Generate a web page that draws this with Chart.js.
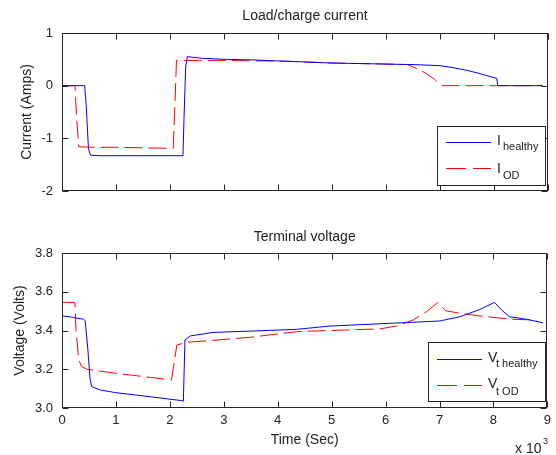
<!DOCTYPE html>
<html>
<head>
<meta charset="utf-8">
<script src="https://cdn.jsdelivr.net/npm/chart.js@4.4.0/dist/chart.umd.min.js"></script>
<style>
  html, body { margin: 0; padding: 0; background: #fff; }
  #wrap { position: relative; width: 556px; height: 455px; }
  .panel { position: absolute; left: 0; width: 556px; }
</style>
</head>
<body>
<div id="wrap">
  <div class="panel" style="top:0;height:228px"><canvas id="currentChart"></canvas></div>
  <div class="panel" style="top:228px;height:227px"><canvas id="voltageChart"></canvas></div>
</div>
<script>
// time axis is in thousands of seconds (x 10^3)
const timeTicks = [0, 1, 2, 3, 4, 5, 6, 7, 8, 9];
const currentTicks = [-2, -1, 0, 1];
const voltageTicks = [3, 3.2, 3.4, 3.6, 3.8];

const healthyCurrentTime = [0, 0.42, 0.45, 0.49, 0.53, 0.7, 1.0, 1.5, 2.0, 2.24, 2.26, 2.29, 2.32, 2.6, 3.0, 3.5, 4.0, 4.5, 5.0, 5.5, 6.0, 6.5, 7.0, 7.25, 7.5, 7.7, 7.87, 8.05, 8.07, 8.5, 8.9];
const healthyCurrent = [0, 0, -0.4, -1.2, -1.32, -1.33, -1.33, -1.33, -1.33, -1.33, -0.6, 0.35, 0.55, 0.52, 0.50, 0.49, 0.47, 0.45, 0.43, 0.42, 0.41, 0.40, 0.38, 0.34, 0.29, 0.24, 0.19, 0.14, 0, 0, 0];

const odCurrentTime = [0, 0.24, 0.27, 0.31, 0.6, 1.0, 1.5, 2.0, 2.06, 2.09, 2.12, 2.5, 3.0, 3.5, 4.0, 4.5, 5.0, 5.5, 6.0, 6.4, 6.6, 6.73, 6.9, 7.0, 7.05, 7.5, 8.0, 8.5, 8.9];
const odCurrent = [0, 0, -0.6, -1.16, -1.17, -1.17, -1.18, -1.19, -1.19, -0.4, 0.48, 0.48, 0.48, 0.47, 0.47, 0.45, 0.43, 0.42, 0.41, 0.40, 0.31, 0.24, 0.12, 0.02, 0, 0, 0, 0, 0];

const healthyVoltageTime = [0, 0.2, 0.40, 0.43, 0.48, 0.52, 0.55, 0.71, 1.0, 1.64, 2.22, 2.25, 2.28, 2.38, 2.8, 3.5, 4.35, 4.97, 6.08, 7.0, 7.38, 7.75, 8.02, 8.15, 8.3, 8.61, 8.92];
const healthyVoltage = [3.476, 3.468, 3.458, 3.45, 3.30, 3.15, 3.11, 3.093, 3.079, 3.058, 3.038, 3.035, 3.351, 3.372, 3.39, 3.397, 3.406, 3.423, 3.437, 3.449, 3.471, 3.509, 3.545, 3.506, 3.471, 3.458, 3.44];

const odVoltageTime = [0, 0.24, 0.26, 0.31, 0.36, 0.46, 1.0, 1.64, 2.03, 2.06, 2.13, 2.31, 2.87, 3.49, 4.35, 5.28, 5.89, 6.2, 6.51, 6.76, 6.97, 7.11, 7.38, 7.75, 8.06, 8.36, 8.8];
const odVoltage = [3.545, 3.545, 3.40, 3.25, 3.215, 3.20, 3.179, 3.158, 3.145, 3.2, 3.325, 3.339, 3.351, 3.365, 3.394, 3.403, 3.408, 3.423, 3.454, 3.497, 3.545, 3.502, 3.489, 3.475, 3.466, 3.458, 3.454];

// legend text: main letter + subscript
const currentLegend = [['I', 'healthy'], ['I', 'OD']];
const voltageLegend = [['V', 't healthy'], ['V', 't OD']];

const FONT = "'Liberation Sans', Arial, sans-serif";
const INK = '#222';
const BLUE = '#0000ff';
const RED = '#ff0000';
const LINE_COLORS = [BLUE, RED];
Chart.defaults.font.family = FONT;
Chart.defaults.color = INK;

function zip(xs, ys) {
  return xs.map((x, i) => ({ x: x, y: ys[i] }));
}

function lineSet(label, xs, ys, color, dash) {
  return {
    label: label,
    data: zip(xs, ys),
    borderColor: color,
    borderWidth: 1,
    borderDash: dash,
    pointRadius: 0,
    tension: 0,
    fill: false
  };
}

// legend sample line as filled rects (solid or dashed)
function legendSample(ctx, x0, x1, y, h, color, dash) {
  ctx.fillStyle = color;
  if (!dash) {
    ctx.fillRect(x0, y, x1 - x0, h);
    return;
  }
  let x = x0, on = true, k = 0;
  while (x < x1) {
    const len = Math.min(dash[k % 2], x1 - x);
    if (on) ctx.fillRect(x, y, len, h);
    x += len; on = !on; k++;
  }
}

// MATLAB style box: frame, inward ticks on all four sides, legend with subscripts
const matlabBox = {
  id: 'matlabBox',
  afterDraw(chart, args, opts) {
    const { ctx, chartArea: a, scales } = chart;
    const L = Math.round(a.left) + 0.5, R = Math.round(a.right) - 0.5;
    const T = Math.round(a.top) + 0.5, B = Math.round(a.bottom) - 0.5;
    ctx.save();
    ctx.strokeStyle = '#262626';
    ctx.lineWidth = 1;
    ctx.setLineDash([]);
    ctx.beginPath();
    scales.x.ticks.forEach(t => {
      const px = Math.round(scales.x.getPixelForValue(t.value)) + 0.5;
      ctx.moveTo(px, B); ctx.lineTo(px, B - 6);
      ctx.moveTo(px, T); ctx.lineTo(px, T + 6);
    });
    scales.y.ticks.forEach(t => {
      const py = Math.round(scales.y.getPixelForValue(t.value)) + 0.5;
      ctx.moveTo(L, py); ctx.lineTo(L + 6, py);
      ctx.moveTo(R, py); ctx.lineTo(R - 6, py);
    });
    ctx.stroke();
    ctx.strokeRect(L, T, R - L, B - T);

    // legend
    const lg = opts.legend;
    ctx.fillStyle = '#fff';
    ctx.fillRect(lg.left, lg.top, lg.right - lg.left, lg.bottom - lg.top);
    ctx.strokeRect(lg.left + 0.5, lg.top + 0.5, lg.right - lg.left, lg.bottom - lg.top);
    lg.items.forEach((item, i) => {
      const row = lg.rows[i];
      legendSample(ctx, lg.lineX0, lg.lineX1, row.line, 1, LINE_COLORS[i], i === 1 ? [20, 7] : null);
      ctx.fillStyle = INK;
      ctx.textBaseline = 'alphabetic';
      ctx.textAlign = 'left';
      ctx.font = '14px ' + FONT;
      ctx.fillText(item[0], lg.textX, row.main);
      ctx.font = '11px ' + FONT;
      ctx.fillText(item[1], lg.subX, row.sub);
    });

    if (opts.exponent) {
      ctx.fillStyle = INK;
      ctx.font = '14px ' + FONT;
      ctx.fillText('x 10', 515, 225);
      ctx.font = '9px ' + FONT;
      ctx.fillText('3', 543, 216);
    }
    ctx.restore();
  }
};

function axisFit(size, horizontal) {
  return s => { if (horizontal) s.height = size; else s.width = size; };
}

const currentChart = new Chart(document.getElementById('currentChart'), {
  type: 'line',
  data: {
    datasets: [
      lineSet('I healthy', healthyCurrentTime, healthyCurrent, BLUE, []),
      lineSet('I OD', odCurrentTime, odCurrent, RED, [18, 6])
    ]
  },
  options: {
    responsive: true,
    maintainAspectRatio: false,
    animation: false,
    layout: { padding: { left: 0, right: 8, top: 0, bottom: 37 } },
    plugins: {
      legend: { display: false },
      tooltip: { enabled: false },
      title: {
        display: true, text: 'Load/charge current', fullSize: false, color: INK,
        font: { size: 14, weight: 'normal' }, padding: { top: 8, bottom: 8.2 }
      },
      matlabBox: {
        legend: {
          left: 437, top: 126, right: 545, bottom: 185,
          lineX0: 446, lineX1: 491, textX: 497, subX: 503,
          rows: [{ line: 142, main: 145, sub: 150 }, { line: 168, main: 173, sub: 179 }],
          items: currentLegend
        }
      }
    },
    scales: {
      x: {
        type: 'linear', min: 0, max: 9,
        afterBuildTicks: s => { s.ticks = timeTicks.map(v => ({ value: v })); },
        ticks: { display: false },
        grid: { display: false, drawTicks: false },
        border: { display: false },
        afterFit: axisFit(0, true)
      },
      y: {
        min: -2, max: 1,
        afterBuildTicks: s => { s.ticks = currentTicks.map(v => ({ value: v })); },
        ticks: { font: { size: 13 }, padding: 9, color: INK },
        grid: { display: false, drawTicks: false },
        border: { display: false },
        title: { display: true, text: 'Current (Amps)', font: { size: 14 }, color: INK, padding: { top: 19, bottom: 0 } },
        afterFit: axisFit(62, false)
      }
    }
  },
  plugins: [matlabBox]
});

const voltageChart = new Chart(document.getElementById('voltageChart'), {
  type: 'line',
  data: {
    datasets: [
      lineSet('Vt healthy', healthyVoltageTime, healthyVoltage, BLUE, []),
      lineSet('Vt OD', odVoltageTime, odVoltage, RED, [18, 6])
    ]
  },
  options: {
    responsive: true,
    maintainAspectRatio: false,
    animation: false,
    layout: { padding: { left: 0, right: 8, top: 0, bottom: 0 } },
    plugins: {
      legend: { display: false },
      tooltip: { enabled: false },
      title: {
        display: true, text: 'Terminal voltage', fullSize: false, color: INK,
        font: { size: 14, weight: 'normal' }, padding: { top: 0.6, bottom: 7.6 }
      },
      matlabBox: {
        exponent: true,
        legend: {
          left: 428, top: 114, right: 545, bottom: 173,
          lineX0: 437, lineX1: 482, textX: 488, subX: 496,
          rows: [{ line: 131, main: 134, sub: 139 }, { line: 157, main: 160, sub: 167 }],
          items: voltageLegend
        }
      }
    },
    scales: {
      x: {
        type: 'linear', min: 0, max: 9,
        afterBuildTicks: s => { s.ticks = timeTicks.map(v => ({ value: v })); },
        ticks: { font: { size: 13 }, padding: 5, color: INK, maxRotation: 0 },
        grid: { display: false, drawTicks: false },
        border: { display: false },
        title: { display: true, text: 'Time (Sec)', font: { size: 14 }, color: INK, padding: { top: 0, bottom: 6.6 } },
        afterFit: axisFit(47, true)
      },
      y: {
        min: 3, max: 3.8,
        afterBuildTicks: s => { s.ticks = voltageTicks.map(v => ({ value: v })); },
        ticks: { font: { size: 13 }, padding: 9, color: INK },
        grid: { display: false, drawTicks: false },
        border: { display: false },
        title: { display: true, text: 'Voltage (Volts)', font: { size: 14 }, color: INK, padding: { top: 12, bottom: 0 } },
        afterFit: axisFit(62, false)
      }
    }
  },
  plugins: [matlabBox]
});
</script>
</body>
</html>
